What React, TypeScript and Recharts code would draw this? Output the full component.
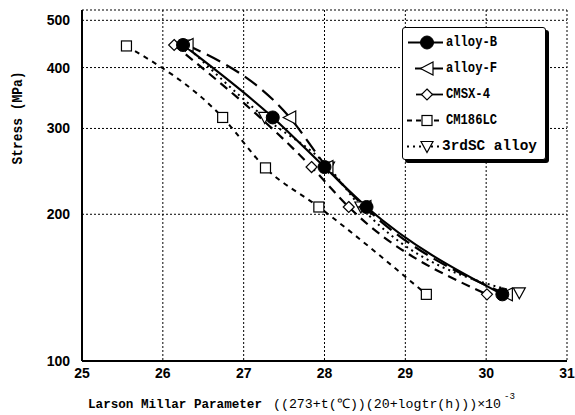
import React from 'react';
import { LineChart, Line, XAxis, YAxis, CartesianGrid, Legend } from 'recharts';

// ---- data ----
const alloyBX = [26.25, 27.36, 28.0, 28.52, 30.2];
const alloyBY = [445, 316, 250, 207, 137];
const alloyFX = [26.3, 27.57, 28.03, 28.5, 30.25];
const alloyFY = [445, 316, 250, 207, 137];
const cmsx4X = [26.14, 27.84, 28.3, 30.01];
const cmsx4Y = [445, 250, 207, 137];
const cm186X = [25.55, 26.74, 27.27, 27.93, 29.26];
const cm186Y = [443, 316, 249, 207, 137];
const sc3X = [26.28, 27.26, 28.05, 28.45, 30.41];
const sc3Y = [445, 316, 250, 207, 138];

const xTicks = [25, 26, 27, 28, 29, 30, 31];
const yTicks = [100, 200, 300, 400, 500];
const minorXTicks = [25.2, 25.4, 25.6, 25.8, 26.2, 26.4, 26.6, 26.8, 27.2, 27.4, 27.6, 27.8, 28.2, 28.4, 28.6, 28.8, 29.2, 29.4, 29.6, 29.8, 30.2, 30.4, 30.6, 30.8];
const seriesNames = ['alloy-B', 'alloy-F', 'CMSX-4', 'CM186LC', '3rdSC alloy'];

const toPts = (xs: number[], ys: number[]) => xs.map((x, i) => ({ x, y: ys[i] }));
const dataB = toPts(alloyBX, alloyBY);
const dataF = toPts(alloyFX, alloyFY);
const dataC4 = toPts(cmsx4X, cmsx4Y);
const dataCM = toPts(cm186X, cm186Y);
const data3 = toPts(sc3X, sc3Y);

// ---- markers ----
type MP = { cx: number; cy: number };
const CircleM = ({ cx, cy }: MP) => <circle cx={cx} cy={cy} r={6.5} fill="#000" stroke="#000" />;
const LeftTriM = ({ cx, cy }: MP) => (
  <polygon points={`${cx - 6.5},${cy} ${cx + 6},${cy - 6.5} ${cx + 6},${cy + 6.5}`} fill="#fff" stroke="#000" strokeWidth={1.2} />
);
const DiamondM = ({ cx, cy }: MP) => (
  <polygon points={`${cx},${cy - 5.5} ${cx + 5.5},${cy} ${cx},${cy + 5.5} ${cx - 5.5},${cy}`} fill="#fff" stroke="#000" strokeWidth={1.2} />
);
const SquareM = ({ cx, cy }: MP) => (
  <rect x={cx - 5} y={cy - 5} width={10} height={10} fill="#fff" stroke="#000" strokeWidth={1.2} />
);
const DownTriM = ({ cx, cy }: MP) => (
  <polygon points={`${cx - 6},${cy - 5} ${cx + 6},${cy - 5} ${cx},${cy + 6}`} fill="#fff" stroke="#000" strokeWidth={1.2} />
);

const mk = (C: any) => (p: any) => <C key={`${p.index}-${p.cx}`} cx={p.cx} cy={p.cy} />;

const styles = [
  { dash: undefined as string | undefined, w: 2.2, M: CircleM, x1: 5, x2: 40, tx: 43, tl: 51 },
  { dash: undefined as string | undefined, w: 2, M: LeftTriM, x1: 12, x2: 40, tx: 43, tl: 51 },
  { dash: undefined as string | undefined, w: 1.8, M: DiamondM, x1: 13, x2: 40, tx: 43, tl: 44 },
  { dash: '5 4', w: 1.8, M: SquareM, x1: 4, x2: 40, tx: 43, tl: 51 },
  { dash: '2 4', w: 1.8, M: DownTriM, x1: 4, x2: 40, tx: 39, tl: 95 },
];

const monoFont = "'Liberation Mono', 'DejaVu Sans Mono', monospace";

const LegendBox = () => (
  <div
    style={{
      width: 142,
      height: 131,
      border: '1px solid #000',
      borderRadius: 3,
      boxShadow: '3px 3px 0 #000',
      background: '#fff',
    }}
  >
    <svg width={142} height={131} style={{ display: 'block' }}>
      {seriesNames.map((n, i) => {
        const s = styles[i];
        const cy = 14.5 + i * 26;
        const M = s.M;
        return (
          <g key={n}>
            <line x1={s.x1} y1={cy} x2={s.x2} y2={cy} stroke="#000" strokeWidth={s.w} strokeDasharray={s.dash} />
            <M cx={24} cy={cy} />
            <text
              x={s.tx}
              y={cy}
              dominantBaseline="central"
              fontFamily={monoFont}
              fontWeight="bold"
              fontSize={15}
              textLength={s.tl}
              lengthAdjust="spacingAndGlyphs"
              fill="#000"
            >
              {n}
            </text>
          </g>
        );
      })}
    </svg>
  </div>
);

const tickFont = { fontFamily: "'Liberation Sans Narrow', 'Liberation Sans', Arial, sans-serif", fontWeight: 'bold', fontSize: 14, fill: '#000' };

const YLabel = () => (
  <text
    x={18}
    y={118}
    transform="rotate(-90 18 118)"
    textAnchor="middle"
    dominantBaseline="central"
    fontFamily={monoFont}
    fontWeight="bold"
    fontSize={15}
    textLength={93}
    lengthAdjust="spacingAndGlyphs"
    fill="#000"
  >
    Stress (MPa)
  </text>
);

const XLabel = () => (
  <g>
    <text x={88} y={404} dominantBaseline="central" fontFamily={monoFont} fontWeight="bold" fontSize={13} fill="#000" textLength={174} lengthAdjust="spacingAndGlyphs">
      Larson Millar Parameter
    </text>
    <text x={273} y={404} dominantBaseline="central" fontFamily={monoFont} fontSize={13} fill="#000" textLength={228} lengthAdjust="spacingAndGlyphs">
      ((273+t(℃))(20+logtr(h)))×10
    </text>
    <text x={504} y={397} dominantBaseline="central" fontFamily={monoFont} fontSize={9} fill="#000" textLength={11} lengthAdjust="spacingAndGlyphs">
      -3
    </text>
  </g>
);

const Empty = () => <g />;

export default function App() {
  return (
    <div style={{ position: 'absolute', left: 0, top: 0, background: '#fff' }}>
      <LineChart width={575} height={415} margin={{ top: 10, right: 8, bottom: 0, left: 0 }}>
        <CartesianGrid stroke="#000" strokeDasharray="2 2" strokeWidth={1} />
        <XAxis
          type="number"
          dataKey="x"
          domain={[25, 31]}
          ticks={xTicks}
          interval={0}
          allowDataOverflow
          height={54}
          tickLine={false}
          tickSize={0}
          tickMargin={7}
          axisLine={{ stroke: '#000', strokeWidth: 2 }}
          tick={tickFont}
          label={<XLabel />}
        />
        <XAxis
          xAxisId="minorB"
          type="number"
          dataKey="x"
          domain={[25, 31]}
          ticks={minorXTicks}
          interval={0}
          allowDataOverflow
          mirror
          height={0}
          axisLine={false}
          tickSize={4}
          tickLine={{ stroke: '#000' }}
          tick={<Empty />}
        />
        <XAxis
          xAxisId="top"
          orientation="top"
          type="number"
          dataKey="x"
          domain={[25, 31]}
          ticks={minorXTicks}
          interval={0}
          allowDataOverflow
          mirror
          height={0}
          axisLine={{ stroke: '#000', strokeWidth: 1 }}
          tickSize={4}
          tickLine={{ stroke: '#000' }}
          tick={<Empty />}
        />
        <YAxis
          type="number"
          scale="log"
          domain={[100, 525]}
          ticks={yTicks}
          interval={0}
          allowDataOverflow
          width={82}
          tickLine={false}
          tickSize={0}
          tickMargin={12}
          axisLine={{ stroke: '#000', strokeWidth: 2 }}
          tick={tickFont}
          label={<YLabel />}
        />
        <Legend
          layout="horizontal"
          verticalAlign="middle"
          align="center"
          content={<LegendBox />}
          wrapperStyle={{ position: 'absolute', left: 402, top: 27, width: 146, height: 136 }}
        />
        <Line data={dataCM} dataKey="y" name="CM186LC" type="monotone" stroke="#000" strokeWidth={2} strokeDasharray="5 5" dot={mk(SquareM)} isAnimationActive={false} />
        <Line data={data3} dataKey="y" name="3rdSC alloy" type="monotone" stroke="#000" strokeWidth={2} strokeDasharray="2 4" dot={mk(DownTriM)} isAnimationActive={false} />
        <Line data={dataC4} dataKey="y" name="CMSX-4" type="monotone" stroke="#000" strokeWidth={2.2} strokeDasharray="9 6" dot={mk(DiamondM)} isAnimationActive={false} />
        <Line data={dataF} dataKey="y" name="alloy-F" type="monotone" stroke="#000" strokeWidth={2.2} strokeDasharray="15 7" dot={mk(LeftTriM)} isAnimationActive={false} />
        <Line data={dataB} dataKey="y" name="alloy-B" type="monotone" stroke="#000" strokeWidth={2.2} dot={mk(CircleM)} isAnimationActive={false} />
      </LineChart>
    </div>
  );
}
